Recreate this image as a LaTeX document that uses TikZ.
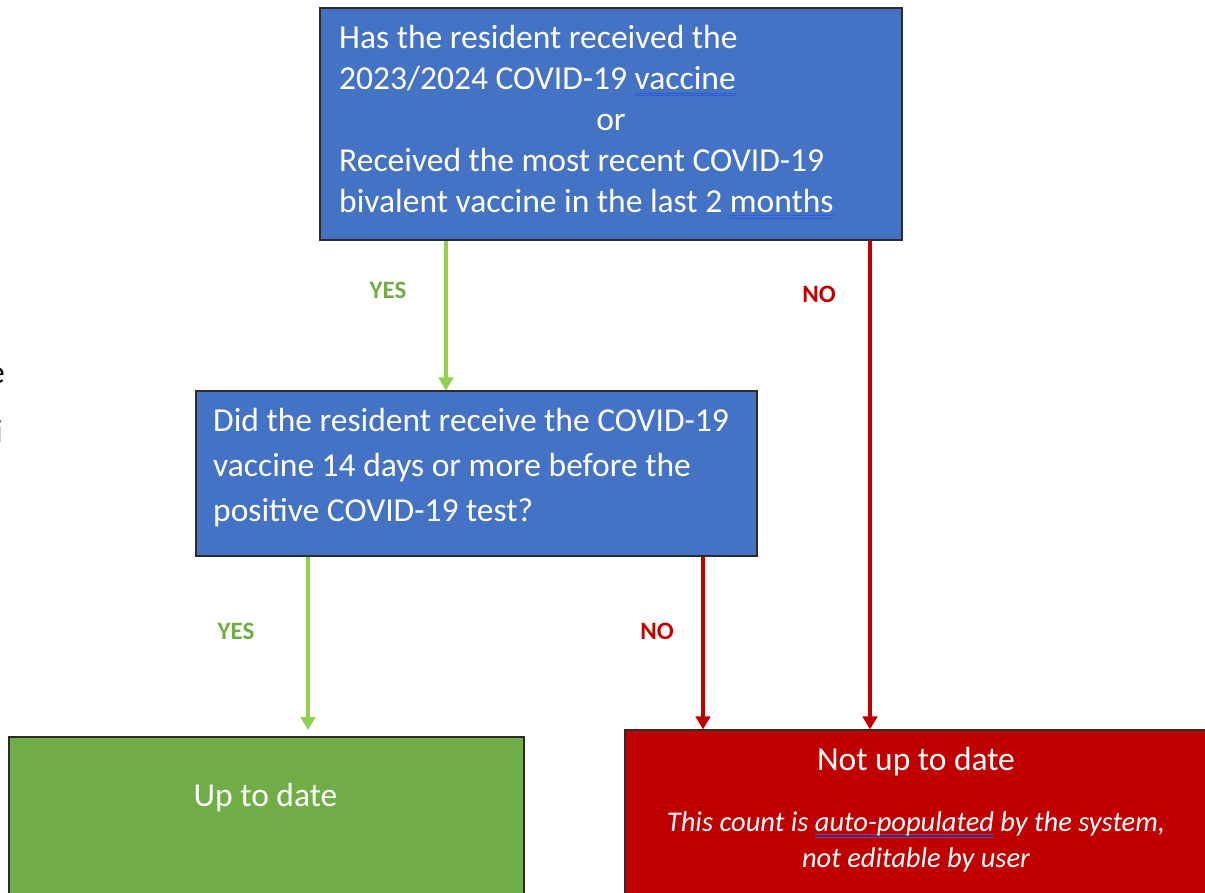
\documentclass[tikz,border=0pt]{standalone}
\usepackage{fontspec}
\setmainfont{Carlito}
\usetikzlibrary{arrows.meta}
\definecolor{boxblue}{HTML}{4472C4}
\definecolor{boxgreen}{HTML}{70AD47}
\definecolor{boxred}{HTML}{C00000}
\definecolor{arrgreen}{HTML}{92D050}
\definecolor{lblgreen}{HTML}{70AD47}
\definecolor{ulblue}{HTML}{2F5BD6}
\definecolor{edgegray}{HTML}{2B2B2B}
\newcommand\dblul[1]{\setbox0\hbox{#1}\rlap{\textcolor{ulblue}{\rule[-4.3pt]{\wd0}{0.9pt}}}\rlap{\textcolor{ulblue}{\rule[-6.8pt]{\wd0}{0.9pt}}}\box0\relax}
\tikzset{
  boxshape/.style={draw=edgegray, line width=1.1pt, inner sep=0pt},
  qtext/.style={text=white, inner sep=0pt, font=\fontsize{33.5}{41}\selectfont},
  q2text/.style={text=white, inner sep=0pt, font=\fontsize{33.5}{45}\selectfont},
  restext/.style={text=white, inner sep=0pt, font=\fontsize{33.5}{40}\selectfont},
  notetext/.style={text=white, inner sep=0pt, font=\fontsize{28.5}{34}\selectfont\itshape},
  yesarrow/.style={draw=arrgreen, line width=3.2pt, -{Triangle[width=14.5pt,length=13pt]}},
  noarrow/.style={draw=boxred, line width=3.2pt, -{Triangle[width=14.5pt,length=13pt]}},
  yeslbl/.style={text=lblgreen, inner sep=0pt, font=\fontsize{25}{28}\selectfont\bfseries},
  nolbl/.style={text=boxred, inner sep=0pt, font=\fontsize{25}{28}\selectfont\bfseries},
  fragtext/.style={text=black, inner sep=0pt, font=\fontsize{33}{38}\selectfont},
}
\begin{document}
\begin{tikzpicture}[x=1pt,y=-1pt]
\useasboundingbox[fill=white] (0,0) rectangle (1205,892);
% boxes
\node[boxshape, fill=boxblue, minimum width=582pt, minimum height=232pt] (q1) at (611,124) {};
\node[boxshape, fill=boxblue, minimum width=561pt, minimum height=165pt] (q2) at (476.5,473.5) {};
\node[boxshape, fill=boxgreen, minimum width=515pt, minimum height=170pt] (up) at (266.5,822) {};
\node[boxshape, fill=boxred, minimum width=590pt, minimum height=175pt] (notup) at (920,817.5) {};
% texts top box
\node[qtext, anchor=base west] (t1a) at (339,48) {Has the resident received the};
\node[qtext, anchor=base west] (t1b) at (339,89.5) {2023/2024 COVID-19 \dblul{vaccine}};
\node[qtext, anchor=base] (t1c) at (611,130.5) {or};
\node[qtext, anchor=base west] (t1d) at (339,171.5) {Received the most recent COVID-19};
\node[qtext, anchor=base west] (t1e) at (339,212) {bivalent vaccine in the last 2 \dblul{months}};
% texts middle box
\node[q2text, anchor=base west] (t2a) at (213,431.5) {Did the resident receive the COVID-19};
\node[q2text, anchor=base west] (t2b) at (213,476.5) {vaccine 14 days or more before the};
\node[q2text, anchor=base west] (t2c) at (213,521.5) {positive COVID-19 test?};
% result texts
\node[restext, anchor=base] (t3) at (265.5,806.5) {Up to date};
\node[restext, anchor=base] (t4) at (916,770.5) {Not up to date};
\node[notetext, anchor=base] (t5) at (916,831) {This count is \dblul{auto-populated} by the system,};
\node[notetext, anchor=base] (t6) at (916,867) {not editable by user};
% arrow coordinates
\coordinate (c1) at (446,0);
\coordinate (c2) at (870,0);
\coordinate (c3) at (308,0);
\coordinate (c4) at (703,0);
\coordinate (e3) at (308,730);
\draw[yesarrow] (q1.south -| c1) -- (q2.north -| c1);
\draw[noarrow] (q1.south -| c2) -- (notup.north -| c2);
\draw[yesarrow] (q2.south -| c3) -- (e3);
\draw[noarrow] (q2.south -| c4) -- (notup.north -| c4);
% labels
\node[yeslbl, anchor=base] (l1) at (388,298) {YES};
\node[nolbl, anchor=base] (l2) at (819,302) {NO};
\node[yeslbl, anchor=base] (l3) at (236,639) {YES};
\node[nolbl, anchor=base] (l4) at (657,639) {NO};
% clipped fragments at left edge
\node[fragtext, anchor=base east] (f1) at (5,383) {e};
\node[fragtext, anchor=base east] (f2) at (3,442) {i};
\end{tikzpicture}
\end{document}
